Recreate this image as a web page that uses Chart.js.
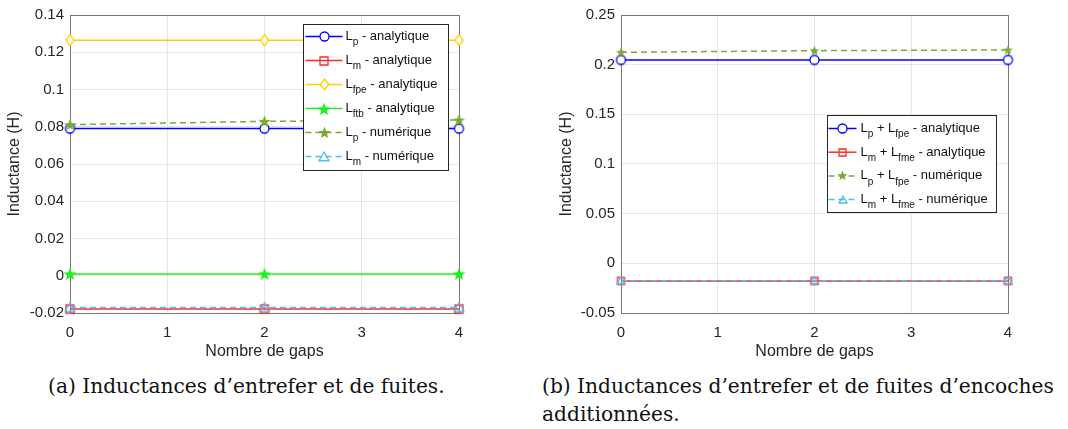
<!DOCTYPE html>
<html>
<head>
<meta charset="utf-8">
<script src="https://cdn.jsdelivr.net/npm/chart.js@4"></script>
<style>
  html, body { margin: 0; padding: 0; background: #fff; }
  body { width: 1068px; height: 429px; position: relative; overflow: hidden; }
  canvas { position: absolute; top: 0; }
  #chartA { left: 0; }
  #chartB { left: 545px; }
  .caption { position: absolute; font-family: 'DejaVu Serif', serif; font-size: 20.2px; color: #111; white-space: nowrap; line-height: 28px; }
  #capA { left: 48px; top: 372px; }
  #capB { left: 542px; top: 372px; }
</style>
</head>
<body>
<canvas id="chartA" width="475" height="365"></canvas>
<canvas id="chartB" width="479" height="365"></canvas>
<div class="caption" id="capA">(a) Inductances d’entrefer et de fuites.</div>
<div class="caption" id="capB">(b) Inductances d’entrefer et de fuites d’encoches<br>additionnées.</div>
<script>
// x values (number of gaps) and tick labels
const gaps = [0, 2, 4];
const xTicks = [0, 1, 2, 3, 4];
const yTicksA = [-0.02, 0, 0.02, 0.04, 0.06, 0.08, 0.1, 0.12, 0.14];
const yTicksB = [-0.05, 0, 0.05, 0.1, 0.15, 0.2, 0.25];

// (a) inductances
const lpAna = [0.079, 0.079, 0.079];
const lmAna = [-0.0179, -0.0179, -0.0179];
const lfpeAna = [0.1265, 0.1265, 0.1265];
const lftbAna = [0.001, 0.001, 0.001];
const lpNum = [0.0811, 0.0829, 0.0836];
const lmNum = [-0.0171, -0.0171, -0.0171];

// (b) summed inductances
const lpFpeAna = [0.2048, 0.2048, 0.2048];
const lmFmeAna = [-0.0177, -0.0177, -0.0177];
const lpFpeNum = [0.2124, 0.2141, 0.2148];
const lmFmeNum = [-0.0175, -0.0175, -0.0175];

const labelsA = ['L_{p} - analytique', 'L_{m} - analytique', 'L_{fpe} - analytique',
                 'L_{ftb} - analytique', 'L_{p} - numérique', 'L_{m} - numérique'];
const labelsB = ['L_{p} + L_{fpe} - analytique', 'L_{m} + L_{fme} - analytique',
                 'L_{p} + L_{fpe} - numérique', 'L_{m} + L_{fme} - numérique'];

const FONT = "'Liberation Sans', Arial, sans-serif";
Chart.defaults.font.family = FONT;
Chart.defaults.color = '#262626';

const BLUE = '#0000ff', RED = '#ff2a2a', YELLOW = '#ffcf00', GREEN = '#22ee22',
      OLIVE = '#77ac30', CYAN = '#4dbeee';

// MATLAB-like markers drawn into small canvases
function makeMarker(shape, color, size, fill) {
  const s = Math.ceil(size + 4);
  const c = document.createElement('canvas');
  c.width = c.height = s;
  const g = c.getContext('2d');
  const m = s / 2, r = size / 2;
  g.strokeStyle = color;
  g.fillStyle = fill;
  g.lineWidth = 1.3;
  g.beginPath();
  if (shape === 'circle') {
    g.arc(m, m, r, 0, Math.PI * 2);
  } else if (shape === 'square') {
    g.rect(m - r, m - r, 2 * r, 2 * r);
  } else if (shape === 'diamond') {
    g.moveTo(m, m - r); g.lineTo(m + r * 0.75, m); g.lineTo(m, m + r); g.lineTo(m - r * 0.75, m);
    g.closePath();
  } else if (shape === 'triangle') {
    g.moveTo(m, m - r); g.lineTo(m + r, m + r * 0.75); g.lineTo(m - r, m + r * 0.75);
    g.closePath();
  } else if (shape === 'star') {
    for (let k = 0; k < 10; k++) {
      const rr = k % 2 ? r * 0.42 : r;
      const a = -Math.PI / 2 + k * Math.PI / 5;
      const px = m + rr * Math.cos(a), py = m + rr * Math.sin(a) + r * 0.1;
      k ? g.lineTo(px, py) : g.moveTo(px, py);
    }
    g.closePath();
  }
  g.fill();
  g.stroke();
  return c;
}

function series(label, values, color, marker, dashed) {
  return {
    label: label,
    data: values.map((v, i) => ({ x: gaps[i], y: v })),
    borderColor: color,
    backgroundColor: color,
    borderWidth: 1.5,
    borderDash: dashed ? [6, 4] : [],
    pointStyle: marker,
    pointRadius: 5,
    clip: false,
    tension: 0
  };
}

// full box around the plot area, under the data
const axesBox = {
  id: 'axesBox',
  beforeDatasetsDraw(chart) {
    const { ctx, chartArea: a } = chart;
    ctx.save();
    ctx.strokeStyle = '#777';
    ctx.lineWidth = 1;
    ctx.strokeRect(Math.round(a.left) + 0.5, Math.round(a.top) + 0.5,
                   Math.round(a.right - a.left), Math.round(a.bottom - a.top));
    ctx.restore();
  }
};

function drawRich(ctx, text, x, y) {
  const parts = text.split(/_\{([^}]*)\}/);
  parts.forEach((p, k) => {
    if (!p) return;
    const sub = k % 2 === 1;
    ctx.font = (sub ? '10px ' : '13px ') + FONT;
    ctx.fillText(p, x, sub ? y + 6 : y);
    x += ctx.measureText(p).width;
  });
}

// legend box with subscripts, MATLAB style
const boxLegend = {
  id: 'boxLegend',
  afterDraw(chart, args, o) {
    const { ctx, chartArea: a } = chart;
    const bx = Math.round(a.right - o.marginRight - o.width) + 0.5;
    const by = Math.round(a.top + o.marginTop) + 0.5;
    ctx.save();
    ctx.fillStyle = '#fff';
    ctx.strokeStyle = '#262626';
    ctx.lineWidth = 1;
    ctx.fillRect(bx, by, o.width, o.height);
    ctx.strokeRect(bx, by, o.width, o.height);
    chart.data.datasets.forEach((ds, i) => {
      const cy = by + o.firstRow + i * o.rowHeight;
      ctx.strokeStyle = ds.borderColor;
      ctx.lineWidth = ds.borderWidth;
      ctx.setLineDash(ds.borderDash);
      ctx.beginPath();
      ctx.moveTo(bx + o.sampleLeft, cy);
      ctx.lineTo(bx + o.sampleLeft + o.sampleWidth, cy);
      ctx.stroke();
      ctx.setLineDash([]);
      const img = ds.pointStyle;
      const mx = bx + o.sampleLeft + o.sampleWidth / 2;
      ctx.drawImage(img, Math.round(mx - img.width / 2), Math.round(cy - img.height / 2));
      ctx.fillStyle = '#111';
      ctx.textBaseline = 'middle';
      ctx.textAlign = 'left';
      drawRich(ctx, ds.label, bx + o.textLeft, cy);
    });
    ctx.restore();
  }
};

function makeChart(id, datasets, yTicks, yWidth, yTitlePad, legendOpts) {
  datasets.forEach((d, i) => { d.order = -i; });
  return new Chart(document.getElementById(id), {
    type: 'line',
    data: { datasets: datasets },
    plugins: [axesBox, boxLegend],
    options: {
      responsive: false,
      animation: false,
      events: [],
      layout: { padding: { top: 13, right: 16, bottom: 0, left: 0 } },
      plugins: {
        legend: { display: false },
        tooltip: { enabled: false },
        boxLegend: legendOpts
      },
      scales: {
        x: {
          type: 'linear', min: 0, max: 4,
          afterBuildTicks: ax => { ax.ticks = xTicks.map(v => ({ value: v })); },
          afterFit: ax => { ax.height = 52; },
          grid: { color: '#e6e6e6', drawTicks: false },
          border: { display: false },
          ticks: { padding: 11, maxRotation: 0, font: { size: 15 }, callback: v => String(v) },
          title: { display: true, text: 'Nombre de gaps', font: { size: 16 }, padding: { top: 0, bottom: 3.4 } }
        },
        y: {
          type: 'linear', min: yTicks[0], max: yTicks[yTicks.length - 1],
          afterBuildTicks: ax => { ax.ticks = yTicks.map(v => ({ value: v })); },
          afterFit: ax => { ax.width = yWidth; },
          grid: { color: '#e6e6e6', drawTicks: false },
          border: { display: false },
          ticks: { padding: 6, font: { size: 15 }, callback: v => String(parseFloat(v.toFixed(4))) },
          title: { display: true, text: 'Inductance (H)', font: { size: 16 }, padding: { top: yTitlePad, bottom: 0 } }
        }
      }
    }
  });
}

makeChart('chartA', [
  series(labelsA[0], lpAna, BLUE, makeMarker('circle', BLUE, 9, '#fff'), false),
  series(labelsA[1], lmAna, RED, makeMarker('square', RED, 8, 'rgba(0,0,0,0)'), false),
  series(labelsA[2], lfpeAna, YELLOW, makeMarker('diamond', YELLOW, 11, '#fff'), false),
  series(labelsA[3], lftbAna, GREEN, makeMarker('star', GREEN, 10, GREEN), false),
  series(labelsA[4], lpNum, OLIVE, makeMarker('star', OLIVE, 9, OLIVE), true),
  series(labelsA[5], lmNum, CYAN, makeMarker('triangle', CYAN, 10, 'rgba(0,0,0,0)'), true)
], yTicksA, 70, 5.4, {
  width: 145, height: 146, marginRight: 11, marginTop: 9,
  firstRow: 12, rowHeight: 24, sampleLeft: 2, sampleWidth: 37, textLeft: 42
});

makeChart('chartB', [
  series(labelsB[0], lpFpeAna, BLUE, makeMarker('circle', BLUE, 9, '#fff'), false),
  series(labelsB[1], lmFmeAna, RED, makeMarker('square', RED, 7, 'rgba(0,0,0,0)'), false),
  series(labelsB[2], lpFpeNum, OLIVE, makeMarker('star', OLIVE, 7, OLIVE), true),
  series(labelsB[3], lmFmeNum, CYAN, makeMarker('triangle', CYAN, 8, 'rgba(0,0,0,0)'), true)
], yTicksB, 76, 12.4, {
  width: 169, height: 97, marginRight: 12, marginTop: 100,
  firstRow: 13, rowHeight: 23.7, sampleLeft: 1, sampleWidth: 28, textLeft: 33
});
</script>
</body>
</html>
